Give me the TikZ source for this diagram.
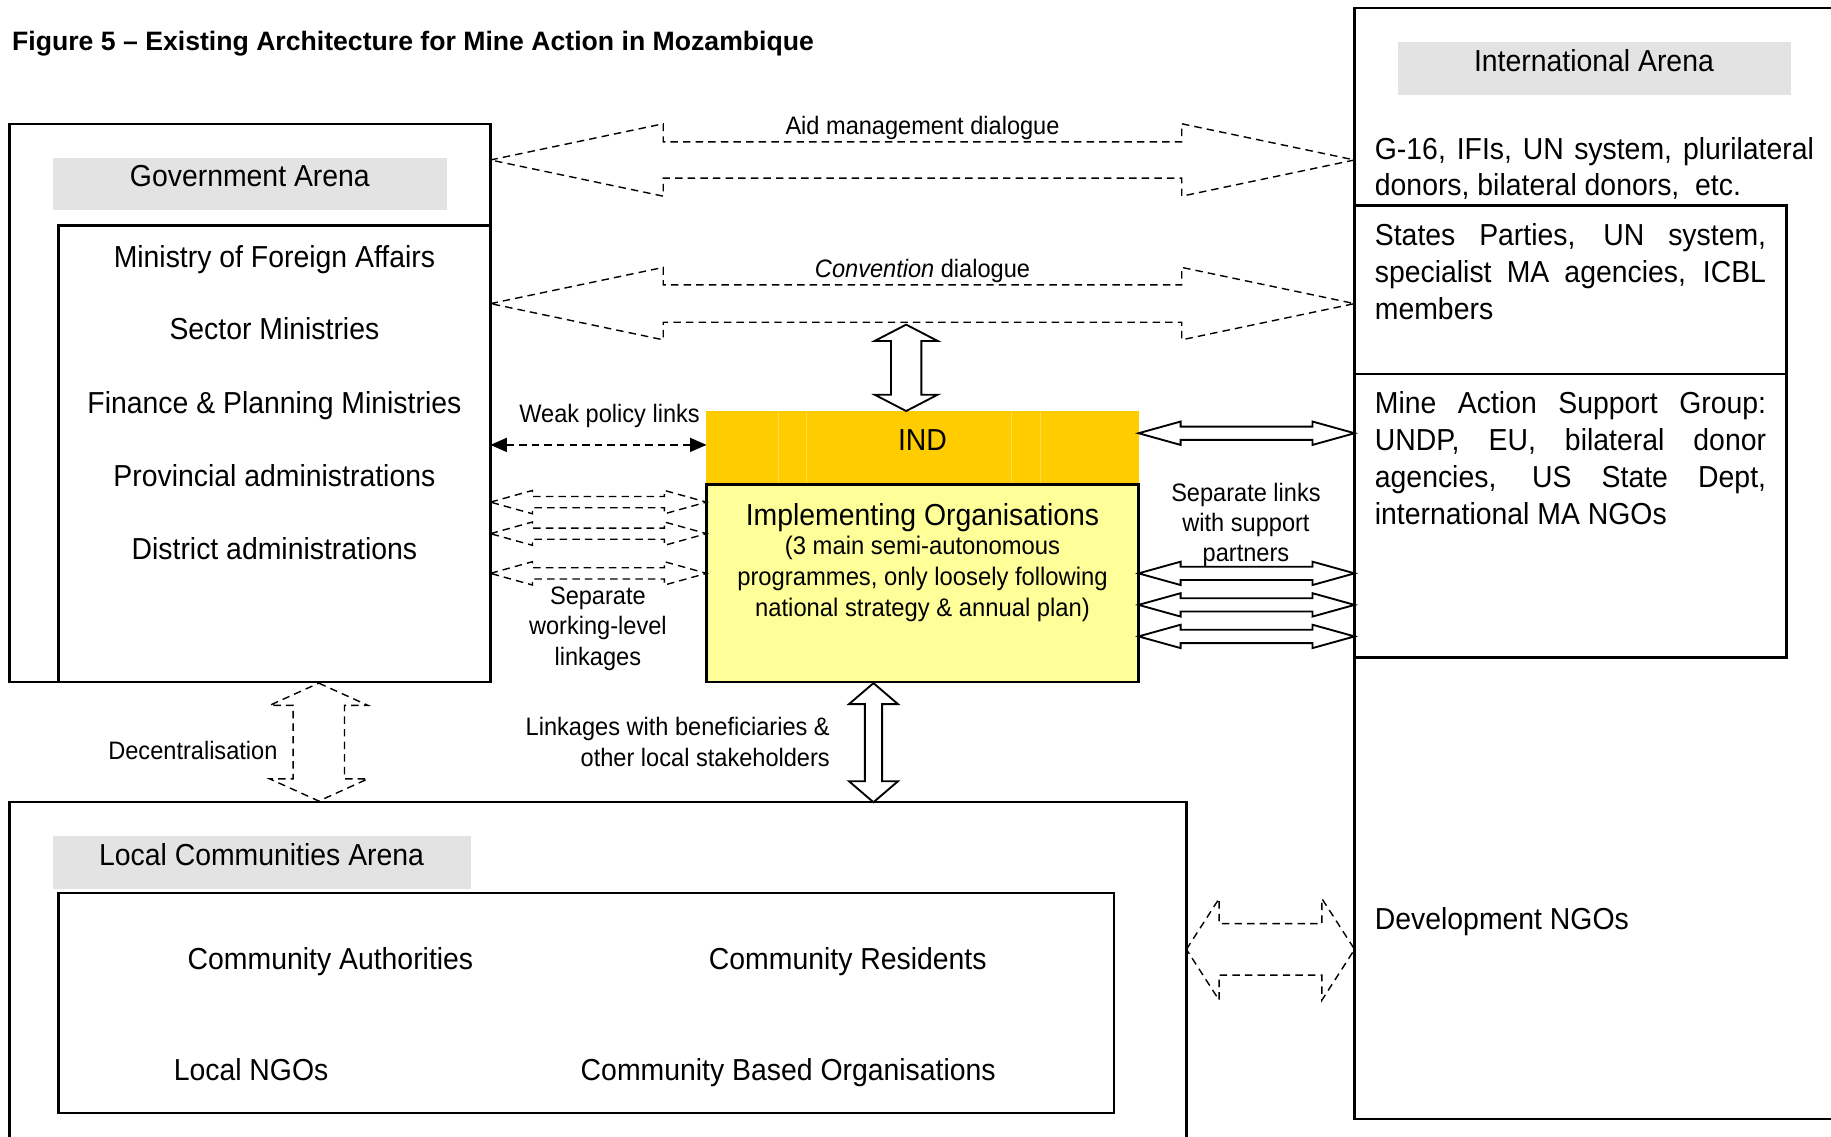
\documentclass[tikz,border=0pt]{standalone}
\usepackage{fontspec}
\setmainfont{Liberation Sans}[FakeStretch=0.935]
\newfontfamily\titlefont{Liberation Sans}
\usetikzlibrary{calc,fit,arrows.meta}
\definecolor{indcol}{HTML}{FFCC00}
\definecolor{implcol}{HTML}{FFFF99}
\definecolor{labgray}{HTML}{E3E3E3}
\definecolor{indline}{HTML}{FFDB4D}
\newcommand\mainsz{\fontsize{13}{15.8}\selectfont}
\newcommand\subsz{\fontsize{10.9}{13.2}\selectfont}
\newcommand\labsz{\fontsize{10.8}{13}\selectfont}
% horizontal double block arrow: style, left tip, right tip, head length, head half height, shaft half height
\newcommand\hdblarrow[6]{%
  \draw[#1] (#2) -- ($(#2)+(#4,-#5)$) -- ($(#2)+(#4,-#6)$) -- ($(#3)+(-#4,-#6)$) -- ($(#3)+(-#4,-#5)$) -- (#3)
    -- ($(#3)+(-#4,#5)$) -- ($(#3)+(-#4,#6)$) -- ($(#2)+(#4,#6)$) -- ($(#2)+(#4,#5)$) -- cycle;}
% vertical double block arrow: style, top tip, bottom tip, head length, head half width, shaft half width
\newcommand\vdblarrow[6]{%
  \draw[#1] (#2) -- ($(#2)+(#5,#4)$) -- ($(#2)+(#6,#4)$) -- ($(#3)+(#6,-#4)$) -- ($(#3)+(#5,-#4)$) -- (#3)
    -- ($(#3)+(-#5,-#4)$) -- ($(#3)+(-#6,-#4)$) -- ($(#2)+(-#6,#4)$) -- ($(#2)+(-#5,#4)$) -- cycle;}
\begin{document}
\begin{tikzpicture}[x=0.5pt,y=-0.5pt,
  boxfit/.style={draw, line width=1pt, inner sep=0pt, outer sep=0pt},
  grayfit/.style={fill=labgray, inner sep=0pt, outer sep=0pt},
  maintxt/.style={font=\mainsz, inner sep=0pt},
  subtxt/.style={font=\subsz, inner sep=0pt},
  labtxt/.style={font=\labsz, inner sep=0pt},
  dasharrow/.style={line width=0.6pt, dash pattern=on 3.2pt off 2.2pt},
  solidarrow/.style={line width=0.8pt, fill=white},
  weaklink/.style={line width=0.6pt, dash pattern=on 3.2pt off 2.2pt,
    {Triangle[length=7pt,width=6pt]}-{Triangle[length=7pt,width=6pt]}},
]
\useasboundingbox (0,0) rectangle (1568,973);

% title
\node[anchor=base west, inner sep=0pt, font=\titlefont\bfseries\fontsize{11.4}{13}\selectfont] (title) at (10,43)
  {Figure 5 – Existing Architecture for Mine Action in Mozambique};

% ---------- Government arena
\node[boxfit, fit={(8,106)(420,584)}] (gov) {};
\node[grayfit, fit={(45,135)(383,180)}] (govlab) {};
\node[maintxt, anchor=base] (govt) at (214,160) {Government Arena};
\node[boxfit, fit={(50,193)(420,584)}] (govin) {};
\node[maintxt, anchor=base] (mfa) at (235,229) {Ministry of Foreign Affairs};
\node[maintxt, anchor=base] (sm)  at (235,291) {Sector Ministries};
\node[maintxt, anchor=base] (fpm) at (235,354) {Finance \& Planning Ministries};
\node[maintxt, anchor=base] (pa)  at (235,417) {Provincial administrations};
\node[maintxt, anchor=base] (da)  at (235,479) {District administrations};

% ---------- International arena
\node[boxfit, fit={(1160,7)(1600,958)}] (intl) {};
\node[grayfit, fit={(1197,36)(1534,81)}] (intllab) {};
\node[maintxt, anchor=base] (intlt) at (1365,61) {International Arena};
\node[maintxt, anchor=north west, align=left] (g16) at (1177,117)
  {\makebox[188pt][s]{G-16, IFIs, UN system, plurilateral}\\donors, bilateral donors,\ \ etc.};
\node[boxfit, fit={(1160,176)(1530,563)}] (intlin) {};
\draw[line width=1pt] (1160,320) -- (1530,320);
\node[maintxt, anchor=north west, align=left] (sp) at (1177,191)
  {\makebox[167.5pt][s]{States Parties, UN system,}\\\makebox[167.5pt][s]{specialist MA agencies, ICBL}\\members};
\node[maintxt, anchor=north west, align=left] (masg) at (1177,335)
  {\makebox[167.5pt][s]{Mine Action Support Group:}\\\makebox[167.5pt][s]{UNDP, EU, bilateral donor}\\\makebox[167.5pt][s]{agencies, US State Dept,}\\international MA NGOs};
\node[maintxt, anchor=base west] (dngo) at (1177,796) {Development NGOs};

% ---------- IND and implementing organisations
\node[fill=indcol, inner sep=0pt, outer sep=0pt, fit={(605,352)(975,415)}] (ind) {};
\foreach \x in {667,691,866,891} \draw[indline, line width=0.5pt] (\x,353) -- (\x,414);
\node[maintxt, anchor=base] (indt) at (790,386) {IND};
\node[boxfit, fill=implcol, fit={(605,415)(975,584)}] (impl) {};
\node[maintxt, anchor=base] (implt) at (790,450) {Implementing Organisations};
\node[subtxt, anchor=north, align=center] (impls) at (790,459)
  {(3 main semi-autonomous\\programmes, only loosely following\\national strategy \& annual plan)};

% ---------- Local communities arena
\node[boxfit, fit={(8,687)(1016,1000)}] (local) {};
\node[grayfit, fit={(45,716)(403,761)}] (loclab) {};
\node[maintxt, anchor=base] (loct) at (224,741) {Local Communities Arena};
\node[boxfit, fit={(50,765)(954,953)}] (localin) {};
\node[maintxt, anchor=base] (ca)  at (283,830) {Community Authorities};
\node[maintxt, anchor=base] (cr)  at (726,830) {Community Residents};
\node[maintxt, anchor=base] (ln)  at (215,925) {Local NGOs};
\node[maintxt, anchor=base] (cbo) at (675,925) {Community Based Organisations};

% ---------- connectors
\coordinate (a1l) at (420,137); \coordinate (a1r) at (1160,137);
\hdblarrow{dasharrow}{a1l}{a1r}{148}{31}{15.5}
\node[labtxt, anchor=base] (aidt) at (790,115) {Aid management dialogue};

\coordinate (a2l) at (420,260); \coordinate (a2r) at (1160,260);
\hdblarrow{dasharrow}{a2l}{a2r}{148}{31}{16}
\node[labtxt, anchor=base] (convt) at (790,238) {\itshape Convention\upshape\ dialogue};

\coordinate (a3t) at (776,278); \coordinate (a3b) at (776,352);
\vdblarrow{solidarrow}{a3t}{a3b}{14}{27}{13}

\coordinate (wl) at (420,381); \coordinate (wr) at (605,381);
\draw[weaklink] (wl) -- (wr);
\node[labtxt, anchor=base] (weakt) at (522,362) {Weak policy links};

\foreach \i/\y in {1/430,2/457,3/491}{
  \coordinate (sl\i) at (420,\y); \coordinate (sr\i) at (605,\y);
  \hdblarrow{dasharrow}{sl\i}{sr\i}{36}{10}{4.8}
}
\node[labtxt, anchor=north, align=center] (sept) at (512,502) {Separate\\working-level\\linkages};

\foreach \i/\y in {1/371,2/491,3/518,4/545}{
  \coordinate (pl\i) at (975,\y); \coordinate (pr\i) at (1160,\y);
  \hdblarrow{solidarrow}{pl\i}{pr\i}{36}{10}{5.7}
}
\node[labtxt, anchor=north, align=center] (sepl) at (1067,413) {Separate links\\with support\\partners};

\coordinate (dt) at (273,585); \coordinate (db) at (273,686);
\vdblarrow{dasharrow}{dt}{db}{19}{42}{22}
\node[labtxt, anchor=base east] (dect) at (238,650) {Decentralisation};

\coordinate (lt) at (748,585); \coordinate (lb) at (748,687);
\vdblarrow{solidarrow}{lt}{lb}{18}{21}{7.4}
\node[labtxt, anchor=north east, align=right] (linkt) at (711,614) {Linkages with beneficiaries \&\\other local stakeholders};

\coordinate (nl) at (1016,813); \coordinate (nr) at (1160,813);
\hdblarrow{dasharrow}{nl}{nr}{28}{43.5}{22}
\end{tikzpicture}
\end{document}
